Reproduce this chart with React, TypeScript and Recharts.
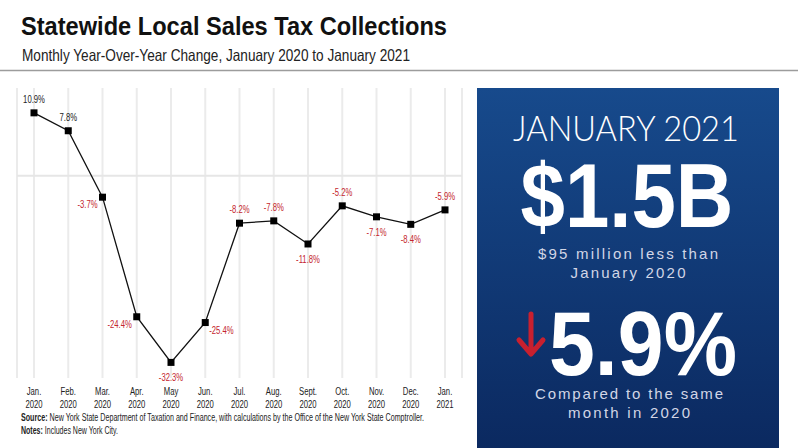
import React from "react";
import {
  CartesianGrid,
  LabelList,
  Line,
  LineChart,
  ReferenceLine,
  XAxis,
  YAxis,
} from "recharts";

const months = ["Jan.", "Feb.", "Mar.", "Apr.", "May", "Jun.", "Jul.", "Aug.", "Sept.", "Oct.", "Nov.", "Dec.", "Jan."];
const years = ["2020", "2020", "2020", "2020", "2020", "2020", "2020", "2020", "2020", "2020", "2020", "2020", "2021"];
const changes = [10.9, 7.8, -3.7, -24.4, -32.3, -25.4, -8.2, -7.8, -11.8, -5.2, -7.1, -8.4, -5.9];

// where each value label sits relative to its point
const labelSides = ["top", "top", "left", "left", "bottom", "right", "top", "top", "bottom", "top", "bottom", "bottom", "top"];

const data = changes.map((change, i) => ({ idx: i, change }));

const sans = "'Liberation Sans', Arial, sans-serif";
const red = "#c4262e";
const squeeze = 0.67; // fake a condensed face

// svg text squeezed horizontally around its anchor point
const Narrow = ({ x, y, anchor = "middle", size = 11.5, fill = "#222", weight = 400, children }: any) => (
  <text
    transform={`translate(${x} ${y}) scale(${squeeze} 1)`}
    textAnchor={anchor}
    fontFamily={sans}
    fontSize={size}
    fontWeight={weight}
    fill={fill}
  >
    {children}
  </text>
);

const MonthTick = ({ x, y, payload }: any) => {
  const i = payload.value as number;
  return (
    <g>
      <Narrow x={x} y={y + 17}>{months[i]}</Narrow>
      <Narrow x={x} y={y + 30}>{years[i]}</Narrow>
    </g>
  );
};

const SquareDot = ({ cx, cy, index }: any) => (
  <rect key={index} x={cx - 3.5} y={cy - 3.5} width={7} height={7} fill="#000" />
);

const ValueLabel = ({ x, y, value, index }: any) => {
  const side = labelSides[index];
  const fill = value < 0 ? red : "#222";
  let tx = x;
  let ty = y - 10;
  let anchor = "middle";
  if (side === "bottom") ty = y + 19;
  if (side === "left") {
    tx = x - 5;
    ty = y + 11;
    anchor = "end";
  }
  if (side === "right") {
    tx = x + 4;
    ty = y + 11;
    anchor = "start";
  }
  return (
    <Narrow x={tx} y={ty} anchor={anchor} fill={fill}>
      {`${value}%`}
    </Narrow>
  );
};

// text stretched or squeezed to a measured width
const Fit = ({ x, y, w, size, anchor = "start", fill = "#111", weight = 400, family = sans, adjust = "spacingAndGlyphs", children }: any) => (
  <text
    x={x}
    y={y}
    textLength={w}
    lengthAdjust={adjust}
    textAnchor={anchor}
    fontFamily={family}
    fontSize={size}
    fontWeight={weight}
    fill={fill}
  >
    {children}
  </text>
);

const panelText = "#d2d6e6";

export default function App() {
  return (
    <div style={{ position: "relative", width: 800, height: 448, background: "#fff", overflow: "hidden" }}>
      <style>{"body{margin:0}"}</style>

      <div style={{ position: "absolute", left: 0, top: 0 }}>
        <LineChart width={470} height={420} data={data} margin={{ top: 88, right: 8, left: 17, bottom: 6 }}>
          <CartesianGrid vertical horizontal={false} stroke="#ebebeb" strokeWidth={2} />
          <XAxis
            dataKey="idx"
            type="category"
            height={36}
            padding={{ left: 17, right: 17 }}
            axisLine={false}
            tickLine={false}
            tickSize={0}
            tickMargin={0}
            interval={0}
            tick={<MonthTick />}
          />
          <YAxis hide domain={[-35, 15.2]} />
          <ReferenceLine y={0} stroke="#e6e6e6" strokeWidth={2} />
          <Line
            type="linear"
            dataKey="change"
            stroke="#111"
            strokeWidth={1.3}
            dot={<SquareDot />}
            activeDot={false}
            isAnimationActive={false}
          >
            <LabelList dataKey="change" content={<ValueLabel />} />
          </Line>
        </LineChart>
      </div>

      <svg width={800} height={448} style={{ position: "absolute", left: 0, top: 0 }}>
        <defs>
          <linearGradient id="panel" x1="0" y1="0" x2="0" y2="1">
            <stop offset="0" stopColor="#174a8c" />
            <stop offset="1" stopColor="#0b2960" />
          </linearGradient>
        </defs>

        <Fit x={21} y={35} w={426} size={26.5} weight={700}>Statewide Local Sales Tax Collections</Fit>
        <Fit x={22} y={61} w={388} size={16.5} fill="#222">
          Monthly Year-Over-Year Change, January 2020 to January 2021
        </Fit>
        <line x1={0} x2={798} y1={70.5} y2={70.5} stroke="#9c9c9c" strokeWidth={1.5} />

        <Fit x={21} y={421} w={403} size={10} fill="#222">
          <tspan fontWeight={700}>Source:</tspan> New York State Department of Taxation and Finance, with calculations by the Office of the New York State Comptroller.
        </Fit>
        <Fit x={21} y={434} w={97} size={10} fill="#222">
          <tspan fontWeight={700}>Notes:</tspan> Includes New York City.
        </Fit>

        <rect x={477} y={88} width={302} height={360} fill="url(#panel)" />
        <Fit x={626} y={141} w={226} size={36} anchor="middle" fill="#fff" weight={300} family="Lato, 'Open Sans', sans-serif">
          JANUARY 2021
        </Fit>
        <Fit x={627} y={227} w={213} size={90} anchor="middle" fill="#fff" weight={700}>$1.5B</Fit>
        <Fit x={628} y={259} w={180} size={15} anchor="middle" fill={panelText} adjust="spacing">
          $95 million less than
        </Fit>
        <Fit x={628} y={278} w={115} size={15} anchor="middle" fill={panelText} adjust="spacing">
          January 2020
        </Fit>
        <path d="M531 314 L531 352 M519 340 L531 354 L543 340" stroke="#c8202f" strokeWidth={5} fill="none" strokeLinecap="round" strokeLinejoin="round" />
        <Fit x={643} y={375} w={188} size={90} anchor="middle" fill="#fff" weight={700}>5.9%</Fit>
        <Fit x={629} y={399} w={188} size={15} anchor="middle" fill={panelText} adjust="spacing">
          Compared to the same
        </Fit>
        <Fit x={629} y={418} w={122} size={15} anchor="middle" fill={panelText} adjust="spacing">
          month in 2020
        </Fit>
      </svg>
    </div>
  );
}
